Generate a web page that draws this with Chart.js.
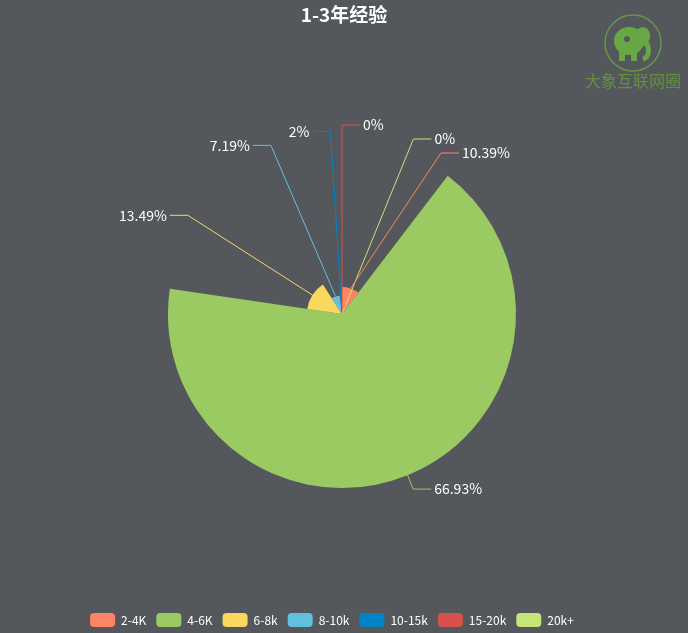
<!DOCTYPE html>
<html>
<head>
<meta charset="utf-8">
<script src="https://cdn.jsdelivr.net/npm/chart.js@4"></script>
<style>
  html, body { margin: 0; padding: 0; background: #54585c; }
  #wrap { width: 688px; height: 633px; position: relative; }
</style>
</head>
<body>
<div id="wrap"><canvas id="salaryRose"></canvas></div>
<script>
const salaryLabels = ["2-4K", "4-6K", "6-8k", "8-10k", "10-15k", "15-20k", "20k+"];
const salaryShares = [10.39, 66.93, 13.49, 7.19, 2, 0, 0];
const salaryColors = ["#fe8463", "#9bca63", "#fad860", "#60c0dd", "#0084c6", "#d7504b", "#c6e579"];
const chartTitle = "1-3年经验";
const watermarkText = "大象互联网圈";

const fontFamily = "'Noto Sans CJK SC', 'Noto Sans', sans-serif";

// labels outside the rose, with a bent leader line like echarts does
const outsideLabels = {
  id: "outsideLabels",
  afterDatasetsDraw(chart) {
    const ctx = chart.ctx;
    const meta = chart.getDatasetMeta(0);
    const scale = chart.scales.r;
    const radii = [scale.drawingArea + 9, scale.drawingArea + 15]; // left, right
    const gap = 14;
    const len2 = 18;
    const left = [], right = [];
    meta.data.forEach((arc, i) => {
      const mid = (arc.startAngle + arc.endAngle) / 2;
      const dx = Math.cos(mid), dy = Math.sin(mid);
      const side = dx > -0.01 ? 1 : 0;
      const item = {
        i: i,
        sx: arc.x + dx * arc.outerRadius,
        sy: arc.y + dy * arc.outerRadius,
        y: scale.yCenter + dy * radii[side]
      };
      (side ? right : left).push(item);
    });
    ctx.save();
    ctx.font = "14px " + fontFamily;
    ctx.textBaseline = "middle";
    [left, right].forEach((list, side) => {
      const dir = side ? 1 : -1;
      const labelR = radii[side];
      list.sort((a, b) => a.y - b.y);
      for (let k = 1; k < list.length; k++) {
        if (list[k].y - list[k - 1].y < gap) list[k].y = list[k - 1].y + gap;
      }
      list.forEach((it) => {
        const off = it.y - scale.yCenter;
        const ex = scale.xCenter + dir * Math.sqrt(Math.max(labelR * labelR - off * off, 0));
        ctx.strokeStyle = salaryColors[it.i];
        ctx.lineWidth = 1;
        ctx.beginPath();
        ctx.moveTo(it.sx, it.sy);
        ctx.lineTo(ex, it.y);
        ctx.lineTo(ex + dir * len2, it.y);
        ctx.stroke();
        ctx.fillStyle = "#fff";
        ctx.textAlign = dir > 0 ? "left" : "right";
        ctx.fillText(salaryShares[it.i] + "%", ex + dir * (len2 + 3), it.y);
      });
    });
    ctx.restore();
  }
};

// nudge the legend a bit lower and left, where the original sits
const legendNudge = {
  id: "legendNudge",
  afterLayout(chart) {
    const lg = chart.legend;
    lg.top += 4; lg.bottom += 4;
    lg.left -= 12; lg.right -= 12;
  }
};

// little elephant logo in the corner
const watermark = {
  id: "watermark",
  afterDraw(chart) {
    const ctx = chart.ctx;
    const cx = 633, cy = 43;
    ctx.save();
    ctx.strokeStyle = "rgba(106,160,70,0.85)";
    ctx.lineWidth = 1.5;
    ctx.beginPath();
    ctx.arc(cx, cy, 28, 0, Math.PI * 2);
    ctx.stroke();
    ctx.fillStyle = "#67a845";
    ctx.beginPath();
    ctx.ellipse(cx - 4, cy - 2, 15, 14, 0, 0, Math.PI * 2);
    ctx.fill();
    ctx.beginPath();
    ctx.ellipse(cx + 9, cy - 6, 8, 10, 0.3, 0, Math.PI * 2);
    ctx.fill();
    ctx.strokeStyle = "#67a845";
    ctx.lineWidth = 5;
    ctx.beginPath();
    ctx.moveTo(cx + 14, cy);
    ctx.quadraticCurveTo(cx + 18, cy + 14, cx + 10, cy + 16);
    ctx.stroke();
    ctx.fillRect(cx - 14, cy + 8, 6, 10);
    ctx.fillRect(cx - 2, cy + 8, 6, 10);
    ctx.fillStyle = "#54585c";
    ctx.beginPath();
    ctx.arc(cx - 6, cy - 4, 3, 0, Math.PI * 2);
    ctx.fill();
    ctx.fillStyle = "rgba(100,150,65,0.9)";
    ctx.font = "16px " + fontFamily;
    ctx.textAlign = "center";
    ctx.textBaseline = "middle";
    ctx.fillText(watermarkText, cx, 81);
    ctx.restore();
  }
};

const rose = new Chart(document.getElementById("salaryRose"), {
  type: "polarArea",
  data: {
    labels: salaryLabels,
    datasets: [
      {
        data: salaryShares,
        backgroundColor: salaryColors,
        borderWidth: 0,
        // angle follows the share too, so this becomes a rose chart
        angle: salaryShares.map((v) => v * 3.6 || 0.000001),
      },
    ],
  },
  options: {
    responsive: true,
    maintainAspectRatio: false,
    animation: false,
    scales: {
      r: {
        display: false,
        min: 0,
        max: Math.max(...salaryShares),
        afterFit(s) {
          s.xCenter = 342;
          s.yCenter = 314;
          s.drawingArea = 174;
        },
      },
    },
    plugins: {
      title: {
        display: true,
        text: chartTitle,
        color: "#fff",
        font: { family: fontFamily, size: 19, weight: "bold" },
        padding: { top: 3, bottom: 10 },
      },
      legend: {
        position: "bottom",
        labels: {
          color: "#fff",
          boxWidth: 25,
          boxHeight: 14,
          padding: 10,
          font: { family: fontFamily, size: 12 },
          generateLabels(chart) {
            return chart.data.labels.map((label, i) => ({
              text: label,
              fillStyle: salaryColors[i],
              strokeStyle: salaryColors[i],
              lineWidth: 0,
              fontColor: "#fff",
              borderRadius: 4,
              hidden: !chart.getDataVisibility(i),
              index: i,
            }));
          },
        },
      },
      tooltip: { enabled: true },
    },
  },
  plugins: [outsideLabels, legendNudge, watermark],
});
</script>
</body>
</html>
